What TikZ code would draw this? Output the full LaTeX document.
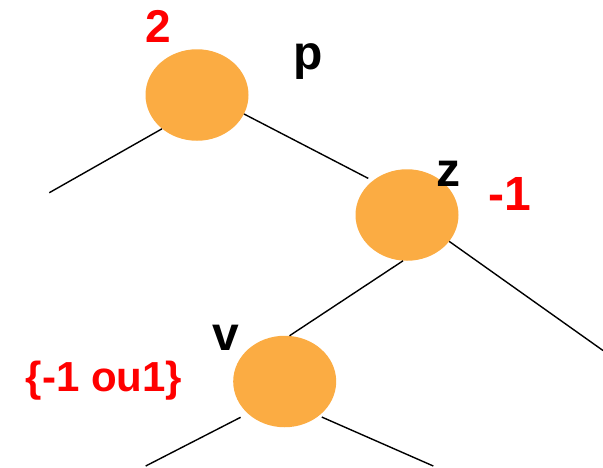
\documentclass[tikz,border=0pt]{standalone}
\usepackage{fontspec}
\setmainfont{Liberation Sans}
\usetikzlibrary{shapes.geometric}
\definecolor{nodeorange}{RGB}{251,172,67}
\definecolor{lblred}{RGB}{255,0,0}
\begin{document}
\begin{tikzpicture}[x=1pt,y=-1pt,
  treenode/.style={ellipse,fill=nodeorange,draw=none,minimum width=103pt,minimum height=91.5pt,inner sep=0pt},
  edge/.style={line width=1.4pt,black},
  redlbl/.style={text=lblred,inner sep=0pt,anchor=base,font=\bfseries\fontsize{#1}{#1}\selectfont},
  blacklbl/.style={text=black,inner sep=0pt,anchor=base,font=\bfseries\fontsize{48}{48}\selectfont}]
\useasboundingbox (0,0) rectangle (603,467);
\node[treenode] (p) at (197,95) {};
\node[treenode] (z) at (407,215) {};
\node[treenode] (v) at (284.7,381.5) {};
\coordinate (pl) at (49.3,192.7);
\coordinate (zr) at (603,350.5);
\coordinate (vl) at (145.7,466);
\coordinate (vr) at (433.3,466);
\draw[edge] (p.224) -- (pl);
\draw[edge,shorten >=5pt] (p.-22) -- (z.135);
\draw[edge] (z.-32) -- (zr);
\draw[edge] (z.265) -- (v.84);
\draw[edge,shorten <=8pt] (v.221) -- (vl);
\draw[edge,shorten <=3pt] (v.-45) -- (vr);
\node[redlbl=46] (l2) at (158,42.7) {2};
\node[blacklbl] (lp) at (308.3,69.3) {p};
\node[blacklbl] (lz) at (448.3,186.7) {z};
\node[redlbl=48] (lm1) at (510,210.7) {-1};
\node[blacklbl] (lv) at (225.7,350.7) {v};
\node[redlbl=42] (lv2) at (104,391.7) {\{-1 ou1\}};
\end{tikzpicture}
\end{document}
